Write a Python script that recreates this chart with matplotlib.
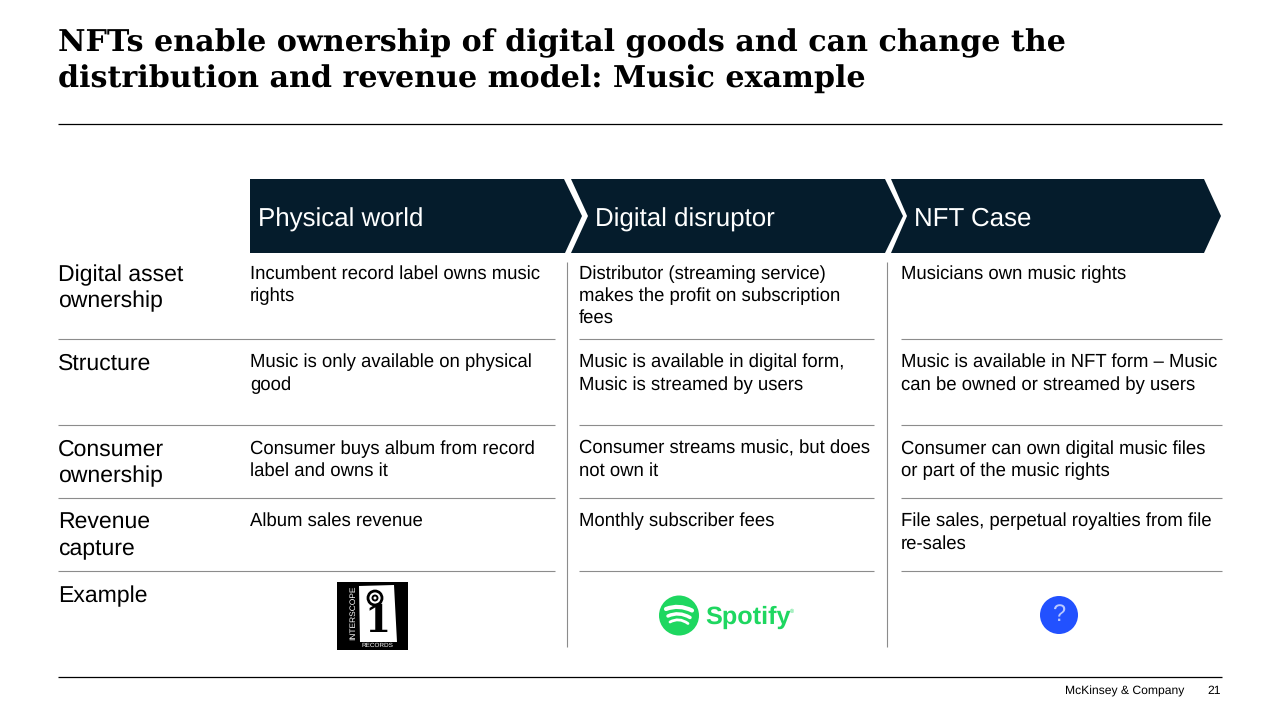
import matplotlib
matplotlib.use("Agg")
import matplotlib.pyplot as plt
from matplotlib.patches import Polygon, Rectangle, Circle, PathPatch
from matplotlib.path import Path

plt.rcParams["text.hinting"] = "none"
plt.rcParams["lines.solid_capstyle"] = "butt"

title_lines = ["NFTs enable ownership of digital goods and can change the",
               "distribution and revenue model: Music example"]
stages = ["Physical world", "Digital disruptor", "NFT Case"]
row_labels = [["Digital asset", "ownership"], ["Structure"], ["Consumer", "ownership"],
              ["Revenue", "capture"], ["Example"]]
physical = [["Incumbent record label owns music", "rights"],
            ["Music is only available on physical", "good"],
            ["Consumer buys album from record", "label and owns it"],
            ["Album sales revenue"]]
digital = [["Distributor (streaming service)", "makes the profit on subscription", "fees"],
           ["Music is available in digital form,", "Music is streamed by users"],
           ["Consumer streams music, but does", "not own it"],
           ["Monthly subscriber fees"]]
nft = [["Musicians own music rights"],
       ["Music is available in NFT form \u2013 Music", "can be owned or streamed by users"],
       ["Consumer can own digital music files", "or part of the music rights"],
       ["File sales, perpetual royalties from file", "re-sales"]]
source = "McKinsey & Company"
page = "21"

NAVY = "#051C2C"
GREY = "#8c8c8c"
SANS = "Liberation Sans"

fig = plt.figure(figsize=(12.8, 7.2), dpi=100, facecolor="white")
ax = fig.add_axes([0, 0, 1, 1])
ax.set_xlim(0, 1280)
ax.set_ylim(720, 0)
ax.axis("off")

def put(x, y, s, size, **kw):
    kw.setdefault("family", SANS)
    kw.setdefault("color", "black")
    ax.text(x, y, s, fontsize=size, va="baseline", **kw)

for y, s in zip([51, 88], title_lines):
    put(58, y, s, 21.7, family="DejaVu Serif", weight="bold")

ax.plot([58, 1222], [124, 124], color="black", lw=0.9)
ax.plot([58, 1222], [677, 677], color="black", lw=0.9)

# chevrons
shapes = [[(250, 179), (564, 179), (582, 216), (565, 253), (250, 253)],
          [(571, 179), (885, 179), (903, 216), (885, 253), (571, 253), (588, 216)],
          [(891, 179), (1204, 179), (1221, 216), (1204, 253), (891, 253), (907, 216)]]
for pts in shapes:
    ax.add_patch(Polygon(pts, closed=True, fc=NAVY, ec="none"))
for x, s, y in zip([258, 595, 914], stages, [226.4, 226.4, 226.0]):
    put(x, y, s, 18.6, color="white")

# left labels
label_y = [[281, 307], [370], [456, 482], [529, 555], [602]]
for ys, lines in zip(label_y, row_labels):
    for y, s in zip(ys, lines):
        put(58, y, s, 16.6)

# cell text
base = [[279.0, 301.0, 323.0], [367.0, 390.0], [454.0, 476.0], [526.0, 549.0]]
for x, col in zip([250, 579, 901], [physical, digital, nft]):
    for ys, lines in zip(base, col):
        for y, s in zip(ys, lines):
            put(x, y - 0.2, s, 13.35)

# rules
for y in [339, 425, 498, 571]:
    for x0, x1 in [(58, 555), (579, 874), (901, 1222)]:
        ax.plot([x0, x1], [y, y], color=GREY, lw=0.8)
for x in [567, 887]:
    ax.plot([x, x], [262, 647], color=GREY, lw=0.8)

# Interscope logo
ax.add_patch(Rectangle((337, 582), 71, 68, fc="black", ec="none"))
ax.add_patch(Polygon([(359, 586), (394, 585), (397, 642), (360, 642)], fc="white", ec="none"))
ax.add_patch(Circle((375, 598), 7, fc="none", ec="black", lw=2.0))
ax.add_patch(Circle((375, 598), 2.5, fc="none", ec="black", lw=1.4))
ax.text(377, 622, "1", fontsize=27, family="DejaVu Serif", weight="bold", ha="center", va="center", color="black")
ax.text(353, 613, "INTERSCOPE", fontsize=6.0, family=SANS, rotation=90, ha="center", va="center", color="white")
ax.text(377, 645.5, "RECORDS", fontsize=4.6, family=SANS, ha="center", va="center", color="white")

# Spotify logo
GREEN = "#1ED760"
ax.add_patch(Circle((679, 615.5), 20, fc=GREEN, ec="none"))
for y, half, lw in [(609, 13, 3.0), (616, 11, 2.5), (622, 9, 2.0)]:
    p = Path([(679 - half, y), (679, y - 5), (679 + half, y + 1.5)],
             [Path.MOVETO, Path.CURVE3, Path.CURVE3])
    ax.add_patch(PathPatch(p, fc="none", ec="white", lw=lw, capstyle="round"))
ax.text(705, 624, "Spotify", fontsize=18.2, family=SANS, weight="bold", color=GREEN, va="baseline")
ax.text(790, 613, "\u00ae", fontsize=4, family=SANS, color=GREEN, va="baseline")

# question mark badge
ax.add_patch(Circle((1059, 615), 19, fc="#2251FF", ec="none"))
ax.text(1059, 615, "?", fontsize=17, family=SANS, color="#b9c8ff", ha="center", va="center")

put(1065, 694.4, source, 8.7)
put(1221, 694.4, page, 8.7, ha="right")

fig.savefig("out.png", dpi=100)
